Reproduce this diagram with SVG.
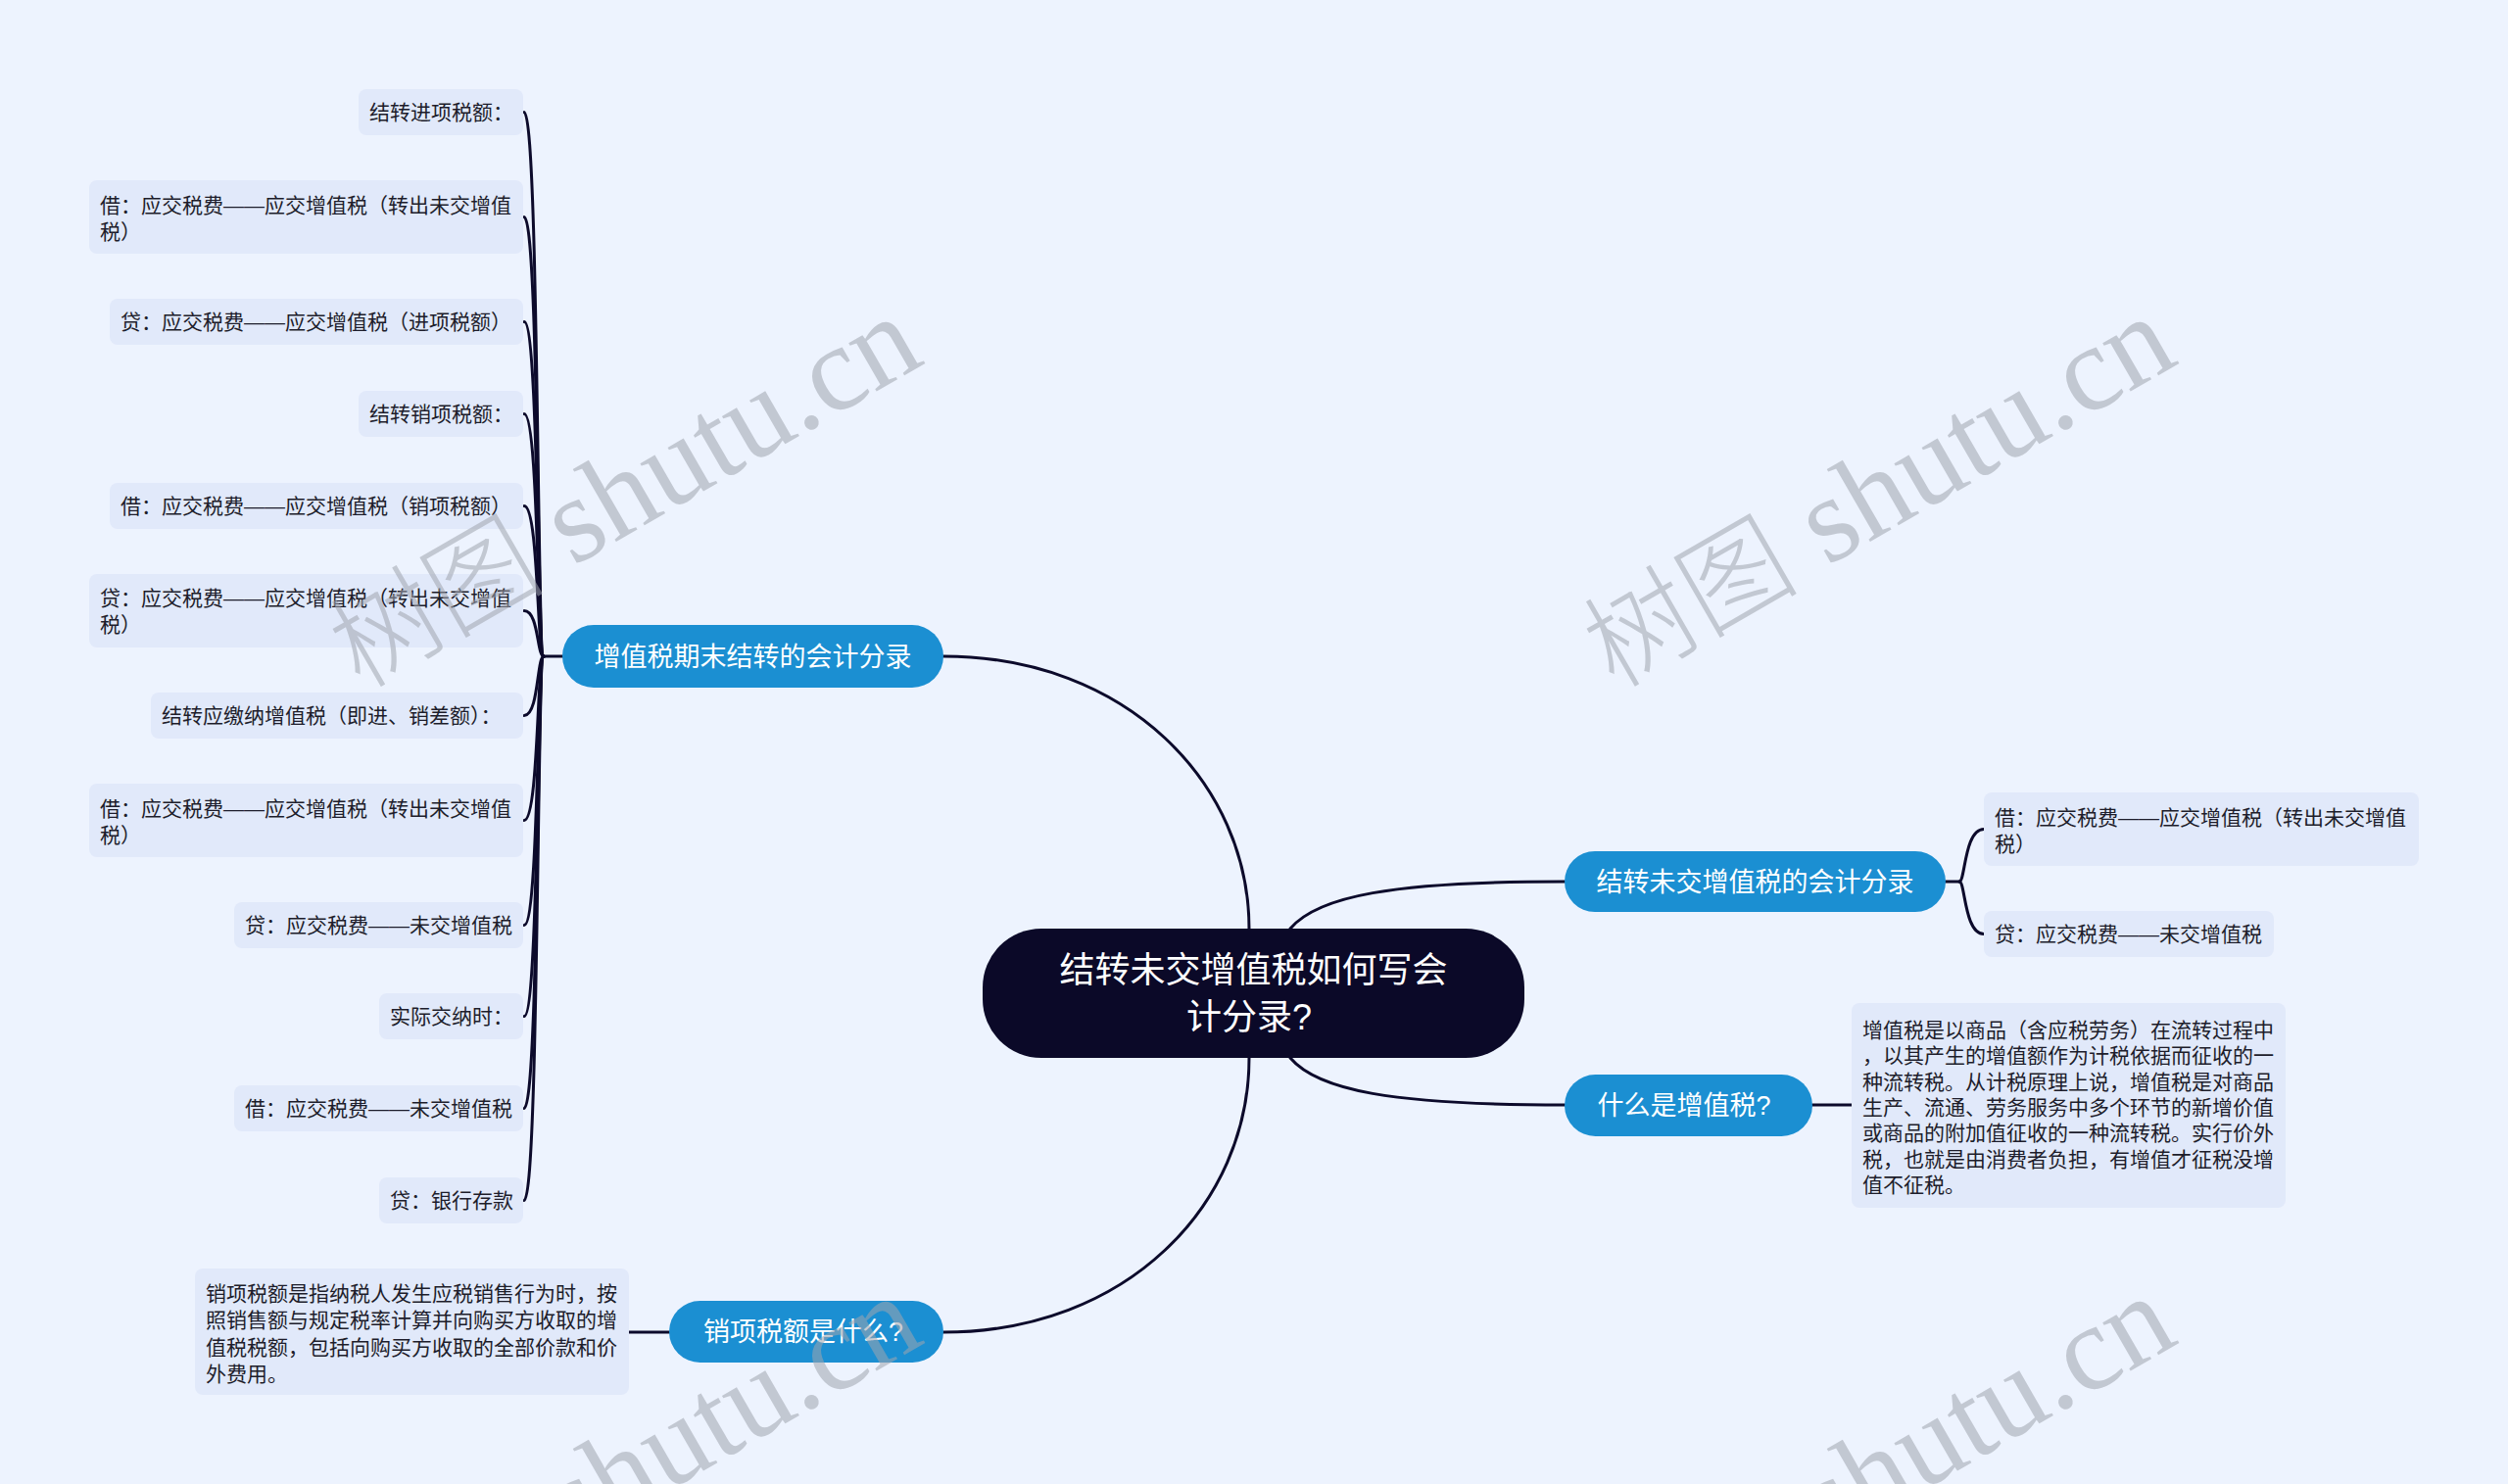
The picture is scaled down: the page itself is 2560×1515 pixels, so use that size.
<svg xmlns="http://www.w3.org/2000/svg" width="2560" height="1515" viewBox="0 0 2560 1515">
<style>
.leaf rect{fill:#e1e9fa}
.lt{font-family:"Liberation Sans","Noto Sans CJK SC",sans-serif;font-size:21px;fill:#1d1d2b}
.bn rect{fill:#1b8fd2}
.bt{font-family:"Liberation Sans","Noto Sans CJK SC",sans-serif;font-size:27px;fill:#ffffff;text-anchor:middle}
.ct{font-family:"Liberation Sans","Noto Sans CJK SC",sans-serif;font-size:36px;fill:#ffffff;text-anchor:middle}
.cn path{fill:none;stroke:#0c0a2b;stroke-width:3;stroke-linecap:round}
.wm{font-family:"Liberation Serif","Noto Sans CJK SC",serif;font-size:124px;fill:#a0a5af;opacity:0.55;text-anchor:end}
.wm .cj{font-size:110px;font-weight:300}
</style>
<rect x="0" y="0" width="2560" height="1515" fill="#edf3fe"/>

<g id="connectors" class="cn">
  <path d="M1275 948 C1275 800 1150 670 963 670"/>
  <path d="M1275 1080 C1275 1230 1150 1360 963 1360"/>
  <path d="M1317 948 C1345 915 1420 900 1597 900"/>
  <path d="M1317 1080 C1345 1113 1420 1128 1597 1128"/>
  <path d="M574 670 L555 670"/>
  <path d="M555 670 C548 670 550 114.5 535 114.5"/>
  <path d="M555 670 C548 670 550 221.5 535 221.5"/>
  <path d="M555 670 C548 670 550 328.5 535 328.5"/>
  <path d="M555 670 C548 670 550 422.5 535 422.5"/>
  <path d="M555 670 C548 670 550 516.5 535 516.5"/>
  <path d="M555 670 C548 670 550 623.5 535 623.5"/>
  <path d="M555 670 C548 670 550 730.5 535 730.5"/>
  <path d="M555 670 C548 670 550 837.5 535 837.5"/>
  <path d="M555 670 C548 670 550 944.5 535 944.5"/>
  <path d="M555 670 C548 670 550 1037.5 535 1037.5"/>
  <path d="M555 670 C548 670 550 1131.5 535 1131.5"/>
  <path d="M555 670 C548 670 550 1225.5 535 1225.5"/>
  <path d="M1986 900 L2000 900"/>
  <path d="M2000 900 C2006 900 2005 846.5 2025 846.5"/>
  <path d="M2000 900 C2006 900 2005 953.5 2025 953.5"/>
  <path d="M1850 1128 L1890 1128"/>
  <path d="M683 1360 L642 1360"/>
</g>

<g id="root">
  <rect x="1003" y="948" width="553" height="132" rx="60" fill="#0b0928"/>
  <text class="ct" x="1279.5" y="1003">结转未交增值税如何写会</text>
  <text class="ct" x="1275" y="1051">计分录?</text>
</g>

<g id="b1" class="bn">
  <rect x="574" y="638" width="389" height="64" rx="32"/>
  <text class="bt" x="768.5" y="680">增值税期末结转的会计分录</text>
</g>
<g id="b2" class="bn">
  <rect x="1597" y="869" width="389" height="62" rx="31"/>
  <text class="bt" x="1791.5" y="910">结转未交增值税的会计分录</text>
</g>
<g id="b3" class="bn">
  <rect x="1597" y="1097" width="253" height="63" rx="31.5"/>
  <text class="bt" x="1719" y="1138">什么是增值税?</text>
</g>
<g id="b4" class="bn">
  <rect x="683" y="1328" width="280" height="63" rx="31.5"/>
  <text class="bt" x="820" y="1369">销项税额是什么?</text>
</g>

<g id="l1" class="leaf"><rect x="366" y="91" width="168" height="47" rx="8"/><text class="lt" x="377" y="122">结转进项税额：</text></g>
<g id="l2" class="leaf"><rect x="91" y="184" width="443" height="75" rx="8"/><text class="lt" x="102" y="217">借：应交税费——应交增值税（转出未交增值</text><text class="lt" x="102" y="244">税）</text></g>
<g id="l3" class="leaf"><rect x="112" y="305" width="422" height="47" rx="8"/><text class="lt" x="123" y="336">贷：应交税费——应交增值税（进项税额）</text></g>
<g id="l4" class="leaf"><rect x="366" y="399" width="168" height="47" rx="8"/><text class="lt" x="377" y="430">结转销项税额：</text></g>
<g id="l5" class="leaf"><rect x="112" y="493" width="422" height="47" rx="8"/><text class="lt" x="123" y="524">借：应交税费——应交增值税（销项税额）</text></g>
<g id="l6" class="leaf"><rect x="91" y="586" width="443" height="75" rx="8"/><text class="lt" x="102" y="618">贷：应交税费——应交增值税（转出未交增值</text><text class="lt" x="102" y="645">税）</text></g>
<g id="l7" class="leaf"><rect x="154" y="707" width="380" height="47" rx="8"/><text class="lt" x="165" y="738">结转应缴纳增值税（即进、销差额）：</text></g>
<g id="l8" class="leaf"><rect x="91" y="800" width="443" height="75" rx="8"/><text class="lt" x="102" y="833">借：应交税费——应交增值税（转出未交增值</text><text class="lt" x="102" y="860">税）</text></g>
<g id="l9" class="leaf"><rect x="239" y="921" width="295" height="47" rx="8"/><text class="lt" x="250" y="952">贷：应交税费——未交增值税</text></g>
<g id="l10" class="leaf"><rect x="387" y="1014" width="147" height="47" rx="8"/><text class="lt" x="398" y="1045">实际交纳时：</text></g>
<g id="l11" class="leaf"><rect x="239" y="1108" width="295" height="47" rx="8"/><text class="lt" x="250" y="1139">借：应交税费——未交增值税</text></g>
<g id="l12" class="leaf"><rect x="387" y="1202" width="147" height="47" rx="8"/><text class="lt" x="398" y="1233">贷：银行存款</text></g>

<g id="ra" class="leaf"><rect x="2025" y="809" width="444" height="75" rx="8"/><text class="lt" x="2036" y="842">借：应交税费——应交增值税（转出未交增值</text><text class="lt" x="2036" y="869">税）</text></g>
<g id="rb" class="leaf"><rect x="2025" y="930" width="296" height="47" rx="8"/><text class="lt" x="2036" y="961">贷：应交税费——未交增值税</text></g>

<g id="rc" class="leaf"><rect x="1890" y="1024" width="443" height="209" rx="8"/>
<text class="lt" x="1901" y="1059">增值税是以商品（含应税劳务）在流转过程中</text>
<text class="lt" x="1901" y="1085.3">，以其产生的增值额作为计税依据而征收的一</text>
<text class="lt" x="1901" y="1111.6">种流转税。从计税原理上说，增值税是对商品</text>
<text class="lt" x="1901" y="1137.9">生产、流通、劳务服务中多个环节的新增价值</text>
<text class="lt" x="1901" y="1164.2">或商品的附加值征收的一种流转税。实行价外</text>
<text class="lt" x="1901" y="1190.5">税，也就是由消费者负担，有增值才征税没增</text>
<text class="lt" x="1901" y="1216.8">值不征税。</text>
</g>

<g id="lc" class="leaf"><rect x="199" y="1295" width="443" height="129" rx="8"/>
<text class="lt" x="210" y="1327.5">销项税额是指纳税人发生应税销售行为时，按</text>
<text class="lt" x="210" y="1355">照销售额与规定税率计算并向购买方收取的增</text>
<text class="lt" x="210" y="1382.5">值税税额，包括向购买方收取的全部价款和价</text>
<text class="lt" x="210" y="1410">外费用。</text>
</g>

<g id="watermarks">
  <text class="wm" x="946" y="370" transform="rotate(-30 946 370)"><tspan class="cj">树图</tspan> shutu.cn</text>
  <text class="wm" x="2226" y="370" transform="rotate(-30 2226 370)"><tspan class="cj">树图</tspan> shutu.cn</text>
  <text class="wm" x="946" y="1370" transform="rotate(-30 946 1370)"><tspan class="cj">树图</tspan> shutu.cn</text>
  <text class="wm" x="2226" y="1370" transform="rotate(-30 2226 1370)"><tspan class="cj">树图</tspan> shutu.cn</text>
</g>
</svg>
